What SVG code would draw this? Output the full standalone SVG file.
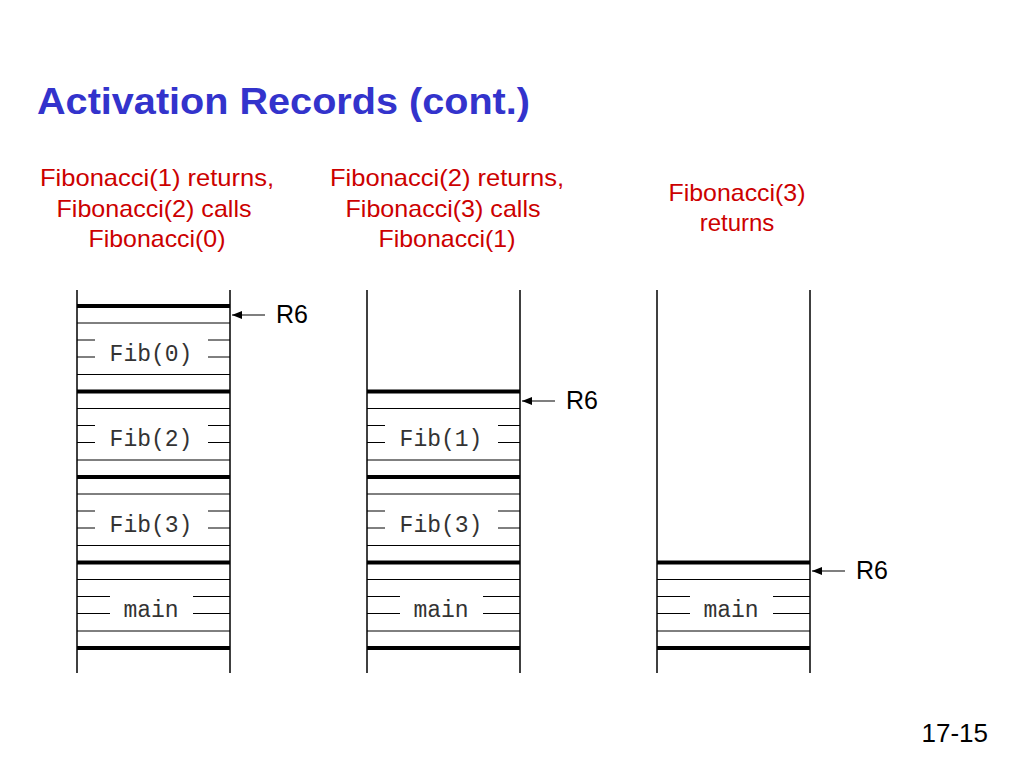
<svg xmlns="http://www.w3.org/2000/svg" width="1024" height="768" viewBox="0 0 1024 768">
<defs>
<marker id="ah" markerWidth="10" markerHeight="8" refX="10" refY="4" orient="auto" markerUnits="userSpaceOnUse"><path d="M0,0 L10,4 L0,8 Z" fill="#000"/></marker>
<g id="rec">
<line x1="0" y1="17" x2="153" y2="17"/>
<line x1="0" y1="68.5" x2="153" y2="68.5"/>
</g>
</defs>
<style>
.v{stroke:#000;stroke-width:1.5}
.thk{stroke:#000;stroke-width:4}
.thn line,.thn{stroke:#000;stroke-width:1}
.red{font-family:"Liberation Sans",Arial,sans-serif;font-size:24px;fill:#cc0000;text-anchor:middle}
.mono{font-family:"Liberation Mono","Courier New",monospace;font-size:23px;fill:#333;text-anchor:middle}
.r6{font-family:"Liberation Sans",Arial,sans-serif;font-size:25px;fill:#000}
</style>
<rect width="1024" height="768" fill="#fff"/>
<text x="37" y="114" font-family="Liberation Sans,Arial,sans-serif" font-size="37" font-weight="bold" fill="#3333cc" textLength="493" lengthAdjust="spacingAndGlyphs">Activation Records (cont.)</text>
<g class="red">
<text x="157" y="186" textLength="234" lengthAdjust="spacingAndGlyphs">Fibonacci(1) returns,</text>
<text x="154" y="217" textLength="195" lengthAdjust="spacingAndGlyphs">Fibonacci(2) calls</text>
<text x="157" y="247" textLength="137" lengthAdjust="spacingAndGlyphs">Fibonacci(0)</text>
<text x="447" y="186" textLength="234" lengthAdjust="spacingAndGlyphs">Fibonacci(2) returns,</text>
<text x="443" y="217" textLength="195" lengthAdjust="spacingAndGlyphs">Fibonacci(3) calls</text>
<text x="447" y="247" textLength="137" lengthAdjust="spacingAndGlyphs">Fibonacci(1)</text>
<text x="737" y="201" textLength="137" lengthAdjust="spacingAndGlyphs">Fibonacci(3)</text>
<text x="737" y="231">returns</text>
</g>
<g id="stack1">
<line class="v" x1="77" y1="290" x2="77" y2="673"/><line class="v" x1="230" y1="290" x2="230" y2="673"/>
</g>
<g id="stack2">
<line class="v" x1="367" y1="290" x2="367" y2="673"/><line class="v" x1="520" y1="290" x2="520" y2="673"/>
</g>
<g id="stack3">
<line class="v" x1="657" y1="290" x2="657" y2="673"/><line class="v" x1="810" y1="290" x2="810" y2="673"/>
</g>
<g class="thn">
<use href="#rec" x="77" y="306"/><use href="#rec" x="77" y="391.5"/><use href="#rec" x="77" y="477"/><use href="#rec" x="77" y="562.5"/>
<use href="#rec" x="367" y="391.5"/><use href="#rec" x="367" y="477"/><use href="#rec" x="367" y="562.5"/>
<use href="#rec" x="657" y="562.5"/>
</g>
<g class="thk">
<line x1="77" y1="306" x2="230" y2="306"/><line x1="77" y1="391.5" x2="230" y2="391.5"/><line x1="77" y1="477" x2="230" y2="477"/><line x1="77" y1="562.5" x2="230" y2="562.5"/><line x1="77" y1="648" x2="230" y2="648"/>
<line x1="367" y1="391.5" x2="520" y2="391.5"/><line x1="367" y1="477" x2="520" y2="477"/><line x1="367" y1="562.5" x2="520" y2="562.5"/><line x1="367" y1="648" x2="520" y2="648"/>
<line x1="657" y1="562.5" x2="810" y2="562.5"/><line x1="657" y1="648" x2="810" y2="648"/>
</g>
<g stroke="#000" stroke-width="1">
<path d="M77,340H95M77,357H95M208,340H230M208,357H230 M77,425.5H95M77,442.5H95M208,425.5H230M208,442.5H230 M77,511H95M77,528H95M208,511H230M208,528H230 M77,596.5H110M77,613.5H110M193,596.5H230M193,613.5H230"/>
<path d="M367,425.5H385M367,442.5H385M498,425.5H520M498,442.5H520 M367,511H385M367,528H385M498,511H520M498,528H520 M367,596.5H400M367,613.5H400M483,596.5H520M483,613.5H520"/>
<path d="M657,596.5H690M657,613.5H690M773,596.5H810M773,613.5H810"/>
</g>
<g class="mono">
<text x="151" y="361">Fib(0)</text>
<text x="151" y="446">Fib(2)</text>
<text x="151" y="532">Fib(3)</text>
<text x="151" y="617">main</text>
<text x="441" y="446">Fib(1)</text>
<text x="441" y="532">Fib(3)</text>
<text x="441" y="617">main</text>
<text x="731" y="617">main</text>
</g>
<g id="connectors" stroke="#000" stroke-width="1.2">
<line x1="265" y1="315" x2="232" y2="315" marker-end="url(#ah)"/>
<line x1="555" y1="401" x2="522" y2="401" marker-end="url(#ah)"/>
<line x1="845" y1="571" x2="812" y2="571" marker-end="url(#ah)"/>
</g>
<text class="r6" x="276" y="323">R6</text>
<text class="r6" x="566" y="409">R6</text>
<text class="r6" x="856" y="579">R6</text>
<text x="988" y="742" text-anchor="end" font-family="Liberation Sans,Arial,sans-serif" font-size="26">17-15</text>
</svg>
